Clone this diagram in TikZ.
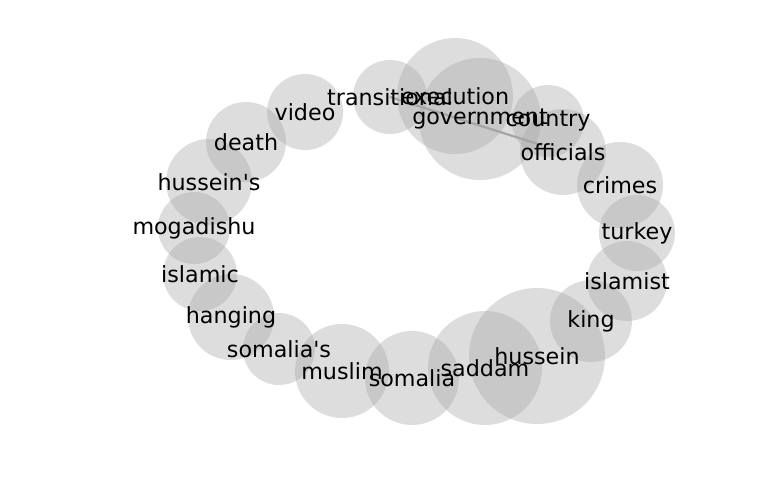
\documentclass[tikz,border=0pt]{standalone}
\usepackage{fontspec}
\setmainfont{DejaVu Sans}
\usetikzlibrary{backgrounds}
\definecolor{bubblegray}{RGB}{166,166,166}
\definecolor{edgegray}{RGB}{128,128,128}

\begin{document}
\begin{tikzpicture}[
    x=0.72pt, y=-0.72pt,
    bubble/.style={circle, fill=bubblegray, fill opacity=0.38, inner sep=0pt},
    word/.style={inner sep=0pt, font=\fontsize{16pt}{19pt}\selectfont, text=black},
    edge/.style={draw=edgegray, line width=1.6pt, opacity=0.7}
]
    \useasboundingbox (0,0) rectangle (768,500);
    % bubbles first, words on top
    \foreach \n/\x/\y/\r in {video/305/112/38, transitional/390/97/37,
        execution/455/96/58, government/480/119/61, country/548/121/36,
        officials/563/152/43, crimes/620/185/43, turkey/637/233/38,
        islamist/627/281/40, king/591/321/41, hussein/537/356/68,
        saddam/485/368/57, somalia/412/378/47, muslim/342/371/47,
        somalias/279/349/36, hanging/231/317/43, islamic/200/274/37,
        mogadishu/194/228/36, husseins/209/182/43, death/246/142/40}
        \node[bubble, minimum size={2*\r*0.72pt}] (\n) at (\x,\y) {};
    \begin{scope}[on background layer]
        \draw[edge, shorten >=16pt] (transitional.center) -- (officials.center);
    \end{scope}
    \foreach \n/\t in {video/video, transitional/transitional,
        execution/execution, government/government, country/country,
        officials/officials, crimes/crimes, turkey/turkey,
        islamist/islamist, king/king, hussein/hussein, saddam/saddam,
        somalia/somalia, muslim/muslim, somalias/somalia\textquotesingle s,
        hanging/hanging, islamic/islamic, mogadishu/mogadishu,
        husseins/hussein\textquotesingle s, death/death}
        \node[word] (\n-w) at (\n.center) {\t};
\end{tikzpicture}
\end{document}
